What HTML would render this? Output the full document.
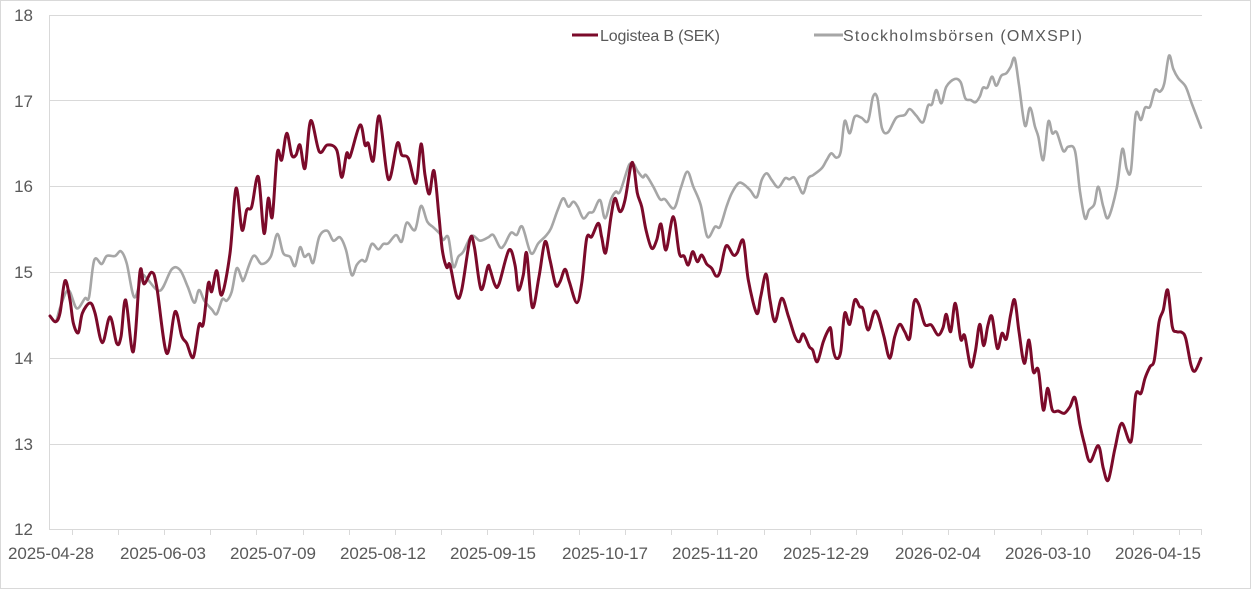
<!DOCTYPE html>
<html><head><meta charset="utf-8"><style>
html,body{margin:0;padding:0;background:#fff;}
svg{display:block;}
text{font-family:"Liberation Sans",sans-serif;fill:#595959;}
</style></head><body>
<svg width="1252" height="590" viewBox="0 0 1252 590" xmlns="http://www.w3.org/2000/svg">
<rect x="0.5" y="0.5" width="1250" height="588" fill="#fff" stroke="#d9d9d9" stroke-width="1"/>
<g stroke="#d9d9d9" stroke-width="1" fill="none">
<line x1="49" y1="15.5" x2="1202" y2="15.5"/>
<line x1="49" y1="100.5" x2="1202" y2="100.5"/>
<line x1="49" y1="186.5" x2="1202" y2="186.5"/>
<line x1="49" y1="272.5" x2="1202" y2="272.5"/>
<line x1="49" y1="358.5" x2="1202" y2="358.5"/>
<line x1="49" y1="444.5" x2="1202" y2="444.5"/>
<line x1="49" y1="529.5" x2="1202" y2="529.5"/>
<line x1="49.5" y1="15" x2="49.5" y2="529.5"/>
<path d="M72.5 529v6M118.5 529v6M164.5 529v6M210.5 529v6M256.5 529v6M303.5 529v6M349.5 529v6M395.5 529v6M441.5 529v6M487.5 529v6M533.5 529v6M579.5 529v6M625.5 529v6M671.5 529v6M717.5 529v6M764.5 529v6M810.5 529v6M856.5 529v6M902.5 529v6M948.5 529v6M994.5 529v6M1041.5 529v6M1087.5 529v6M1133.5 529v6M1179.5 529v6M1201.5 529v6"/>
</g>
<g font-size="17" text-anchor="end">
<text x="33" y="21">18</text>
<text x="33" y="107">17</text>
<text x="33" y="192">16</text>
<text x="33" y="278">15</text>
<text x="33" y="364">14</text>
<text x="33" y="450">13</text>
<text x="33" y="535">12</text>
</g>
<g font-size="17" text-anchor="middle">
<text x="51" y="559" textLength="86">2025-04-28</text>
<text x="163" y="559" textLength="86">2025-06-03</text>
<text x="273" y="559" textLength="86">2025-07-09</text>
<text x="383" y="559" textLength="86">2025-08-12</text>
<text x="493" y="559" textLength="86">2025-09-15</text>
<text x="605" y="559" textLength="86">2025-10-17</text>
<text x="715" y="559" textLength="86">2025-11-20</text>
<text x="826" y="559" textLength="86">2025-12-29</text>
<text x="938" y="559" textLength="86">2026-02-04</text>
<text x="1048" y="559" textLength="86">2026-03-10</text>
<text x="1158" y="559" textLength="86">2026-04-15</text>
</g>
<line x1="572" y1="35" x2="598" y2="35" stroke="#7b0a2a" stroke-width="3"/>
<text x="600" y="41" font-size="16" textLength="120">Logistea B (SEK)</text>
<line x1="814" y1="35" x2="843" y2="35" stroke="#a6a6a6" stroke-width="3"/>
<text x="843" y="41" font-size="16" textLength="239">Stockholmsbörsen (OMXSPI)</text>

<polyline class="sm" fill="none" stroke="#a6a6a6" stroke-width="2.6" stroke-linejoin="round" stroke-linecap="round" points="
50,316 55.7,321.7 60,308 68.3,290 76.7,308.3 85,298.3 89,297.3 94.3,260 101.7,264 106.7,256 115,256 121,251.3 126.7,263.3 134.3,297.3 141.7,276 146.7,278.3 160,290.7 171.7,269.3 180,270 187.7,286.7 194.3,302.7 199,290 204.3,300.7 211.7,309.3 216.7,314 222.3,299.3 226.7,300.7 231.7,291.7 236.7,268.3 241.7,278.3 244,279.3 253.3,256 261.7,264 270.7,256.7 277.3,234 283.3,253.3 290,256.7 295,266 300,247.3 304.3,256.7 309,254 313.3,262.7 319.3,236.7 327.3,230.7 333.3,240.7 340,237.3 346,250 351.7,275 356.7,265 361.7,260 366,260.7 371.7,244 378.3,249.3 383.3,244 388.3,243.3 396,235 401.7,241.7 406.7,222.7 415,230 421,206 427.3,221.7 433.3,227.3 440,234 443.3,240 448.3,237.3 453.3,266.7 458.3,256.7 463.3,251.7 471.7,236 480,240.7 488.3,237.3 493.3,235 500,247.3 504.3,245 511,232.7 516.7,235 522.3,226.7 531,253.3 538.3,243.3 545.7,236 551,228.3 557.7,210 563.3,198.3 568.3,206.7 573.3,201.7 577.7,206.7 583.3,218.3 589,212.7 593.3,211.7 600,200 605,218.3 611,199.3 615.7,191.7 620,191.7 628.3,166.7 631,164 634,164.5 637.3,170.7 642.7,177.3 646,175 653.3,186.7 660,199.3 665,199.3 674,208.3 680.7,188.3 687.3,171.7 693.3,186.7 700.7,205 707.3,236.7 715,226.7 720,226.7 726.7,206 731.7,193.3 738.3,183.3 743.3,184 750,190 756.7,197.3 761.7,180 766.7,173.3 771.7,180 778.3,187.3 785,178.3 789.3,179.3 794,177.3 798.3,185 803.3,193.3 808.3,178.3 813.3,175 821.7,168.3 826.7,160 831.3,153.3 836.3,157.7 840.7,151.7 844.7,121 849.7,133.3 854.7,116.7 861.3,117.7 868,121 873,96.7 877.3,97.7 882,128.3 888,132.3 896.3,117.7 904.7,115 909.7,109 916.3,115.7 923,122.3 928,105.7 932,104.3 936.3,90 941.3,103.3 946.3,86.7 954.7,79 960.7,82.3 965.3,98.3 970.7,100 975.3,102.3 979.7,96.7 983,87.7 987.3,87.7 992,76.7 996.3,85.7 1001.3,75.7 1006.3,73.3 1010.7,66.7 1014.7,58.3 1019,85 1025,125.7 1030,107.7 1035,126.7 1038.3,136.7 1043.3,160 1048.3,121.7 1052.3,133.3 1056.7,132.3 1063.3,151 1068.3,146.7 1075,151 1080,191.7 1085,218.3 1089,210 1094.3,204.3 1098.3,186.7 1103.3,206.7 1108.3,217.7 1116.7,188.3 1122.3,149 1126.7,169 1131,170 1135.7,114.3 1141,120 1145,107.7 1150,106.7 1155,90 1160,91.7 1164.3,83.3 1169,55.7 1173.3,69 1178.3,78.3 1185.7,86.7 1191.7,103.3 1201,127.7"/>

<polyline class="sm" fill="none" stroke="#7b0a2a" stroke-width="3" stroke-linejoin="round" stroke-linecap="round" points="
50,316 55.7,321.7 60,313 65,280.7 70,300 73.3,323 78.3,332.7 82.3,313.3 90,303 95,313 102.3,342.7 110,316.7 116.7,343.3 121,336.7 125.7,300 133.3,351.7 140,271.7 144,284 151.7,272.3 156.7,286.7 166.7,353.3 175,311.7 181.7,336 186.7,343.3 193.3,357.3 199,325 203.3,324 208.3,283.3 211.7,291.7 216.7,270.7 221.7,295 230,253.3 236,188.3 242,230 246.7,210 251.7,206.7 258.3,176.7 264,233.3 268.3,198.3 272.3,216.7 277.3,152.7 281.7,160 286.7,133.3 291.7,155 296,155 300,145 305,168.3 310.7,120.7 319.3,151.7 327.3,145 336.7,150 341.7,177.3 346.7,153.3 350,156.7 360,125 365,145 368.3,143.3 373.3,160.7 379.3,116 388.3,179.3 397.3,143.3 401.7,155 408.3,158.3 416,183.3 421,144 425,175 429.3,194 434,170.7 439,216.7 442.3,250 446.7,267.3 450,265 456.7,296 461.7,290 470,239.3 474.3,246.7 481,289.3 487.7,266.7 490,269.3 495,285 499,284 509,250 515,265 518.3,290 523.3,275 526.7,253.3 532.3,307.3 539,276.7 545,241.7 550,260 555.7,285 560,281.7 565,269.3 569.3,281.7 576.7,302.7 581.7,283.3 586.7,238.3 591.7,236.7 598.3,223.3 601.7,237.3 605.7,252.7 611,216.7 615,198.3 620,211.7 625,200 631,165 634,168 637.3,193 641.7,206.7 646,230 651.7,248.3 656.7,240 661,224 666,250 673.3,216.7 679.3,253.3 684,256 688.3,265 692.7,251.7 697.3,261.7 701.7,255 706.7,264 711.7,268.3 716,276 720,271.7 726,246 733.3,255 737.3,252.7 743.3,240.7 748.3,280 756.7,313.3 760.7,296.7 766,274 770,300 775,321.7 781.7,298.3 788.3,316 795,336.7 799.3,341.7 803.3,334 809.3,346.7 812.7,350 817.3,361.7 823.3,341.7 829,329 831,330 833,348.3 836.3,358.3 840.7,351.7 844.7,313.3 849.7,324.3 854.7,300 859.7,306.7 863,309 868,330 874,312.3 878,315 884,336.7 889.7,358.3 894.7,336.7 899.7,324.3 904.7,331.7 909.7,338.3 914,302.3 918.7,304.3 924.7,324.3 931.3,325 938,335 943,327.7 946.3,314.3 950.7,331.7 955.3,303.3 960.7,339 964.7,335.7 970.7,366.7 975.3,351.7 979.7,324.3 983.7,345.7 988,325 992,316.7 997.3,348.3 1002,333.3 1006.3,339 1010.7,314.3 1014.7,300 1019,331.7 1024.3,363.3 1029,340 1033.3,371.7 1038.3,370 1043.3,410 1047.7,388.3 1052.3,410 1058.3,411 1064.3,413.3 1070,406.7 1075,397.7 1080,425 1084.3,443.3 1090,461.7 1098.3,445.7 1103.3,468.3 1108.3,480 1115,448.3 1121.7,423.3 1131,441.7 1135.7,395 1141,393.3 1145,378.3 1150,366.7 1154.3,360 1159,322.3 1163.3,310 1167.7,290 1172.3,326.7 1176.7,331.7 1181.7,332.3 1185.7,338.3 1191,365 1195,371 1201,358.3"/>
</svg>
<script>
(function(){
  var NS="http://www.w3.org/2000/svg";
  var lines=document.querySelectorAll("polyline.sm");
  for(var k=0;k<lines.length;k++){
    var pl=lines[k];
    var raw=pl.getAttribute("points").trim().split(/\s+/);
    var p=[];
    for(var i=0;i<raw.length;i++){var a=raw[i].split(",");p.push([+a[0],+a[1]]);}
    var d="M"+p[0][0]+" "+p[0][1];
    for(var i=0;i<p.length-1;i++){
      var p0=p[i-1]||p[i],p1=p[i],p2=p[i+1],p3=p[i+2]||p[i+1];
      var c1x=p1[0]+(p2[0]-p0[0])/6,c1y=p1[1]+(p2[1]-p0[1])/6;
      var c2x=p2[0]-(p3[0]-p1[0])/6,c2y=p2[1]-(p3[1]-p1[1])/6;
      d+="C"+c1x.toFixed(2)+" "+c1y.toFixed(2)+" "+c2x.toFixed(2)+" "+c2y.toFixed(2)+" "+p2[0]+" "+p2[1];
    }
    var path=document.createElementNS(NS,"path");
    path.setAttribute("d",d);
    path.setAttribute("fill","none");
    path.setAttribute("stroke",pl.getAttribute("stroke"));
    path.setAttribute("stroke-width",pl.getAttribute("stroke-width"));
    path.setAttribute("stroke-linejoin","round");
    path.setAttribute("stroke-linecap","round");
    pl.parentNode.replaceChild(path,pl);
  }
})();
</script>
</body></html>
